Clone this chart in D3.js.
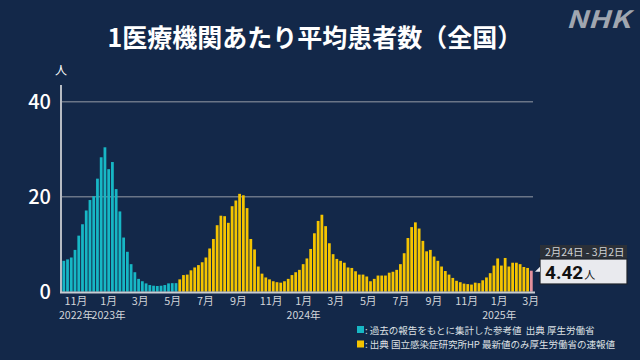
<!DOCTYPE html>
<html><head><meta charset="utf-8">
<script src="https://cdn.jsdelivr.net/npm/d3@7"></script>
<style>
html,body{margin:0;padding:0;background:#132849;}
svg{display:block;}
text{font-family:"Noto Sans CJK JP","Noto Sans",sans-serif;}
</style></head>
<body>
<script>
const title = "1医療機関あたり平均患者数（全国）";
const startWeek = "2022-10-03";
// reference values (cyan), weekly from 2022-10-03
const refValues = [6.5,6.8,7.2,8.8,11.8,14.2,17.1,19.3,20.1,23.8,28.3,30.4,25.8,27.3,21.6,16.9,11.4,8.4,5.8,4.1,2.7,2.2,1.75,1.4,1.26,1.2,1.26,1.4,1.75,1.8,1.8];
// sentinel values (yellow), weekly from 2023-05-08
const sentinelValues = [2.6,3.5,3.6,4.5,5.1,5.6,6.2,7.2,9.1,11.1,
  14.0,16.0,15.9,14.5,18.0,19.2,20.6,20.3,17.6,11.1,
  8.9,5.3,3.8,3.0,2.6,2.2,2.0,1.9,2.2,2.7,
  3.5,4.1,4.6,5.8,7.0,9.0,12.3,14.9,16.2,13.8,
  10.2,7.9,6.9,6.5,6.1,5.1,5.0,4.3,3.6,3.6,
  3.2,2.2,2.7,3.4,3.4,3.4,4.0,4.2,4.6,5.8,
  8.1,11.3,13.6,14.6,13.3,10.7,8.5,8.8,7.4,6.5,
  5.3,4.35,3.6,2.9,2.3,2.0,1.7,1.6,1.5,1.9,
  1.8,2.4,3.0,3.9,5.5,7.0,5.5,7.1,5.3,6.1,
  6.1,5.8,5.2,5.0,4.42];
const yTicks = [0,20,40];
const monthTicks = ["2022-11-01","2023-01-01","2023-03-01","2023-05-01","2023-07-01","2023-09-01","2023-11-01","2024-01-01","2024-03-01","2024-05-01","2024-07-01","2024-09-01","2024-11-01","2025-01-01","2025-03-01"];
const yearLabels = [["2022-11-01","2022年"],["2023-01-01","2023年"],["2024-01-01","2024年"],["2025-01-01","2025年"]];
const latestLabel = "2月24日 - 3月2日";
const latestUnit = "人";
const legendItems = [["#17b7c5",": 過去の報告をもとに集計した参考値  出典 厚生労働省"],["#f5c400",": 出典 国立感染症研究所HP 最新値のみ厚生労働省の速報値"]];

const parse = d3.timeParse("%Y-%m-%d");
const t0 = parse(startWeek);
const data = refValues.map(v => ({v, type:"ref"})).concat(sentinelValues.map(v => ({v, type:"sen"})));
data.forEach((d,i) => { d.date = d3.timeDay.offset(t0, 7*i); });
data[data.length-1].type = "latest";
const tEnd = d3.timeDay.offset(t0, 7*data.length);

const W = 640, H = 360;
const svg = d3.select("body").append("svg").attr("width", W).attr("height", H);
svg.append("rect").attr("width", W).attr("height", H).attr("fill", "#132849");

const x = d3.scaleTime().domain([t0, tEnd]).range([62, 533.3]);
const y = d3.scaleLinear().domain([0, 40]).range([291.7, 101.7]);

// title
svg.append("text").attr("x", 315).attr("y", 47).attr("text-anchor", "middle")
  .attr("fill", "#fff").attr("font-size", 25).attr("font-weight", 700).text(title);
// NHK logo
svg.append("text").attr("x", 598).attr("y", 28).attr("text-anchor", "middle")
  .attr("fill", "#a0a6b0").attr("font-size", 24).attr("font-weight", 700).attr("font-style", "italic")
  .attr("font-family", "Liberation Sans, Arial, sans-serif").attr("textLength", 64)
  .attr("lengthAdjust", "spacingAndGlyphs").text("NHK");

// gridlines
svg.append("g").selectAll("line").data(yTicks.filter(t => t > 0)).join("line")
  .attr("x1", 62).attr("x2", 533).attr("y1", d => y(d)).attr("y2", d => y(d))
  .attr("stroke", "#6a7587").attr("stroke-width", 1.6);

// bars
const colors = {ref:"#17b7c5", sen:"#f5c400", latest:"#e3909c"};
svg.append("g").selectAll("rect").data(data).join("rect")
  .attr("x", d => x(d.date) + 0.4)
  .attr("width", (x(d3.timeDay.offset(t0,7)) - x(t0)) * 0.74)
  .attr("y", d => y(d.v))
  .attr("height", d => y(0) - y(d.v))
  .attr("fill", d => colors[d.type]);

// axes lines
svg.append("line").attr("x1", 61).attr("x2", 61).attr("y1", 85).attr("y2", 292.5)
  .attr("stroke", "#c9ccd2").attr("stroke-width", 1.8);
svg.append("line").attr("x1", 60).attr("x2", 535).attr("y1", 292.5).attr("y2", 292.5)
  .attr("stroke", "#c9ccd2").attr("stroke-width", 1.8);

// y labels
svg.append("g").selectAll("text").data(yTicks).join("text")
  .attr("x", 51).attr("y", d => y(d) + 7).attr("text-anchor", "end")
  .attr("fill", "#fff").attr("font-size", 20).attr("font-weight", 500)
  .attr("font-family", "Roboto, 'Noto Sans', sans-serif").text(d => d);
svg.append("text").attr("x", 61).attr("y", 75).attr("text-anchor", "middle")
  .attr("fill", "#fff").attr("font-size", 12).text("人");

// x labels
svg.append("g").selectAll("text").data(monthTicks).join("text")
  .attr("x", d => x(parse(d)) - 1.5).attr("y", 305).attr("text-anchor", "middle")
  .attr("fill", "#d2d5da").attr("font-size", 10.8)
  .text(d => (parse(d).getMonth() + 1) + "月");
svg.append("g").selectAll("text").data(yearLabels).join("text")
  .attr("x", d => x(parse(d[0])) - 1.5).attr("y", 319).attr("text-anchor", "middle")
  .attr("fill", "#d2d5da").attr("font-size", 10.6)
  .text(d => d[1]);

// tooltip
const last = data[data.length-1];
const tipX = 540, tipY = 245;
svg.append("rect").attr("x", tipX).attr("y", tipY).attr("width", 87).attr("height", 14).attr("fill", "#2b3038");
svg.append("text").attr("x", tipX + 5).attr("y", tipY + 11).attr("fill", "#cfd2d6").attr("font-size", 10.5).text(latestLabel);
svg.append("rect").attr("x", tipX).attr("y", tipY + 14).attr("width", 87).attr("height", 25)
  .attr("fill", "#e9eaee").attr("stroke", "#1d222b").attr("stroke-width", 1.2);
svg.append("path").attr("d", `M${tipX},${y(last.v)-4} L${tipX},${y(last.v)+1} L${tipX-5},${y(last.v)+1} Z`).attr("fill", "#e9eaee");
const vt = svg.append("text").attr("x", tipX + 5).attr("y", tipY + 34).attr("fill", "#111");
vt.append("tspan").attr("font-size", 19).attr("font-weight", 700).attr("font-family", "Roboto, 'Noto Sans', sans-serif").text(last.v.toFixed(2));
vt.append("tspan").attr("font-size", 11).attr("dx", 1).text(latestUnit);

// legend
const lg = svg.append("g");
legendItems.forEach((it, i) => {
  lg.append("rect").attr("x", 357).attr("y", 326 + i*14.5).attr("width", 7).attr("height", 7).attr("fill", it[0]);
  lg.append("text").attr("x", 365).attr("y", 333.5 + i*14.5).attr("fill", "#dde0e4").attr("font-size", 9.5)
    .attr("xml:space", "preserve").style("white-space", "pre").text(it[1]);
});
</script>
</body></html>
